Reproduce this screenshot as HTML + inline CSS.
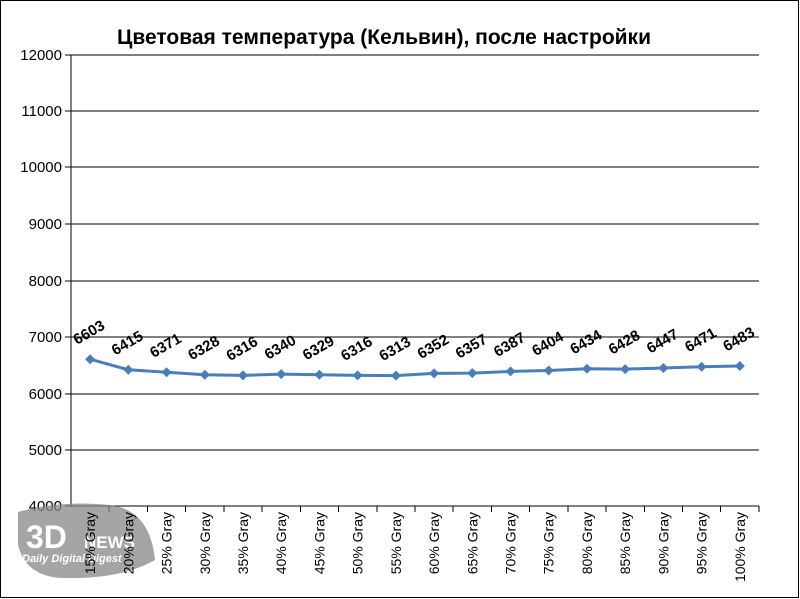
<!DOCTYPE html>
<html><head><meta charset="utf-8"><style>
html,body{margin:0;padding:0;background:#fff}
svg{display:block;font-family:"Liberation Sans",sans-serif}
</style></head><body>
<svg width="800" height="599" xmlns="http://www.w3.org/2000/svg" xmlns:xlink="http://www.w3.org/1999/xlink">
<defs><path id="d" d="M0,-5 L5,0 L0,5 L-5,0 Z" fill="#4a7ebb"/></defs>
<rect x="0.5" y="0.5" width="798" height="597" fill="#fff" stroke="#000"/>
<text x="384" y="44" font-size="21" font-weight="bold" text-anchor="middle">Цветовая температура (Кельвин), после настройки</text>
<g stroke="#000" stroke-width="1" shape-rendering="crispEdges">
<line x1="71" y1="55" x2="759" y2="55"/><line x1="71" y1="111" x2="759" y2="111"/>
<line x1="71" y1="167" x2="759" y2="167"/><line x1="71" y1="224" x2="759" y2="224"/>
<line x1="71" y1="281" x2="759" y2="281"/><line x1="71" y1="337" x2="759" y2="337"/>
<line x1="71" y1="394" x2="759" y2="394"/><line x1="71" y1="450" x2="759" y2="450"/>
<line x1="65" y1="506" x2="759" y2="506"/>
<line x1="71" y1="55" x2="71" y2="506"/>
<line x1="65" y1="55" x2="71" y2="55"/><line x1="65" y1="111" x2="71" y2="111"/><line x1="65" y1="167" x2="71" y2="167"/><line x1="65" y1="224" x2="71" y2="224"/><line x1="65" y1="281" x2="71" y2="281"/><line x1="65" y1="337" x2="71" y2="337"/><line x1="65" y1="394" x2="71" y2="394"/><line x1="65" y1="450" x2="71" y2="450"/>
<line x1="109.2" y1="506" x2="109.2" y2="512"/><line x1="147.4" y1="506" x2="147.4" y2="512"/><line x1="185.7" y1="506" x2="185.7" y2="512"/><line x1="223.9" y1="506" x2="223.9" y2="512"/><line x1="262.1" y1="506" x2="262.1" y2="512"/><line x1="300.3" y1="506" x2="300.3" y2="512"/><line x1="338.5" y1="506" x2="338.5" y2="512"/><line x1="376.8" y1="506" x2="376.8" y2="512"/><line x1="415" y1="506" x2="415" y2="512"/><line x1="453.2" y1="506" x2="453.2" y2="512"/><line x1="491.4" y1="506" x2="491.4" y2="512"/><line x1="529.6" y1="506" x2="529.6" y2="512"/><line x1="567.9" y1="506" x2="567.9" y2="512"/><line x1="606.1" y1="506" x2="606.1" y2="512"/><line x1="644.3" y1="506" x2="644.3" y2="512"/><line x1="682.5" y1="506" x2="682.5" y2="512"/><line x1="720.7" y1="506" x2="720.7" y2="512"/><line x1="759" y1="506" x2="759" y2="512"/>
</g>
<g font-size="15" text-anchor="end">
<text x="62" y="60">12000</text><text x="62" y="116">11000</text><text x="62" y="172">10000</text><text x="62" y="229">9000</text><text x="62" y="286">8000</text><text x="62" y="342">7000</text><text x="62" y="399">6000</text><text x="62" y="455">5000</text><text x="62" y="511">4000</text>
</g>
<g opacity="0.75">
<path d="M18 512 Q60 500 110 505 Q150 510 155 560 Q120 580 60 578 Q25 575 18 545 Z" fill="#888"/>
<text x="26" y="548" font-size="32" font-weight="bold" fill="#fff">3D</text>
<text x="84" y="548" font-size="17" font-weight="bold" fill="#fff">NEWS</text>
<text x="22" y="562" font-size="11" font-weight="bold" font-style="italic" fill="#fff">Daily Digital Digest</text>
</g>
<g font-size="14">
<text transform="translate(95,512) rotate(-90)" text-anchor="end">15% Gray</text>
<text transform="translate(133.3,512) rotate(-90)" text-anchor="end">20% Gray</text>
<text transform="translate(171.6,512) rotate(-90)" text-anchor="end">25% Gray</text>
<text transform="translate(209.8,512) rotate(-90)" text-anchor="end">30% Gray</text>
<text transform="translate(248,512) rotate(-90)" text-anchor="end">35% Gray</text>
<text transform="translate(286.2,512) rotate(-90)" text-anchor="end">40% Gray</text>
<text transform="translate(324.4,512) rotate(-90)" text-anchor="end">45% Gray</text>
<text transform="translate(362.6,512) rotate(-90)" text-anchor="end">50% Gray</text>
<text transform="translate(400.9,512) rotate(-90)" text-anchor="end">55% Gray</text>
<text transform="translate(439.1,512) rotate(-90)" text-anchor="end">60% Gray</text>
<text transform="translate(477.3,512) rotate(-90)" text-anchor="end">65% Gray</text>
<text transform="translate(515.5,512) rotate(-90)" text-anchor="end">70% Gray</text>
<text transform="translate(553.7,512) rotate(-90)" text-anchor="end">75% Gray</text>
<text transform="translate(591.9,512) rotate(-90)" text-anchor="end">80% Gray</text>
<text transform="translate(630.2,512) rotate(-90)" text-anchor="end">85% Gray</text>
<text transform="translate(668.4,512) rotate(-90)" text-anchor="end">90% Gray</text>
<text transform="translate(706.6,512) rotate(-90)" text-anchor="end">95% Gray</text>
<text transform="translate(744.8,512) rotate(-90)" text-anchor="end">100% Gray</text>
</g>
<polyline points="90.1,359.2 128.3,369.8 166.6,372.3 204.8,374.7 243,375.4 281.2,374.1 319.4,374.7 357.6,375.4 395.9,375.6 434.1,373.4 472.3,373.1 510.5,371.4 548.7,370.5 586.9,368.8 625.2,369.1 663.4,368 701.6,366.7 739.8,366" fill="none" stroke="#4a7ebb" stroke-width="3"/>
<use xlink:href="#d" x="90.1" y="359.2"/><use xlink:href="#d" x="128.3" y="369.8"/><use xlink:href="#d" x="166.6" y="372.3"/><use xlink:href="#d" x="204.8" y="374.7"/><use xlink:href="#d" x="243" y="375.4"/><use xlink:href="#d" x="281.2" y="374.1"/><use xlink:href="#d" x="319.4" y="374.7"/><use xlink:href="#d" x="357.6" y="375.4"/><use xlink:href="#d" x="395.9" y="375.6"/><use xlink:href="#d" x="434.1" y="373.4"/><use xlink:href="#d" x="472.3" y="373.1"/><use xlink:href="#d" x="510.5" y="371.4"/><use xlink:href="#d" x="548.7" y="370.5"/><use xlink:href="#d" x="586.9" y="368.8"/><use xlink:href="#d" x="625.2" y="369.1"/><use xlink:href="#d" x="663.4" y="368"/><use xlink:href="#d" x="701.6" y="366.7"/><use xlink:href="#d" x="739.8" y="366"/>
<g font-size="15" font-weight="bold">
<text transform="translate(77,345) rotate(-30)">6603</text>
<text transform="translate(115.3,355.6) rotate(-30)">6415</text>
<text transform="translate(153.6,358.1) rotate(-30)">6371</text>
<text transform="translate(191.8,360.5) rotate(-30)">6328</text>
<text transform="translate(230,361.2) rotate(-30)">6316</text>
<text transform="translate(268.2,359.9) rotate(-30)">6340</text>
<text transform="translate(306.4,360.5) rotate(-30)">6329</text>
<text transform="translate(344.6,361.2) rotate(-30)">6316</text>
<text transform="translate(382.9,361.4) rotate(-30)">6313</text>
<text transform="translate(421.1,359.2) rotate(-30)">6352</text>
<text transform="translate(459.3,358.9) rotate(-30)">6357</text>
<text transform="translate(497.5,357.2) rotate(-30)">6387</text>
<text transform="translate(535.7,356.3) rotate(-30)">6404</text>
<text transform="translate(573.9,354.6) rotate(-30)">6434</text>
<text transform="translate(612.2,354.9) rotate(-30)">6428</text>
<text transform="translate(650.4,353.8) rotate(-30)">6447</text>
<text transform="translate(688.6,352.5) rotate(-30)">6471</text>
<text transform="translate(726.8,351.8) rotate(-30)">6483</text>
</g>
</svg>
</body></html>
